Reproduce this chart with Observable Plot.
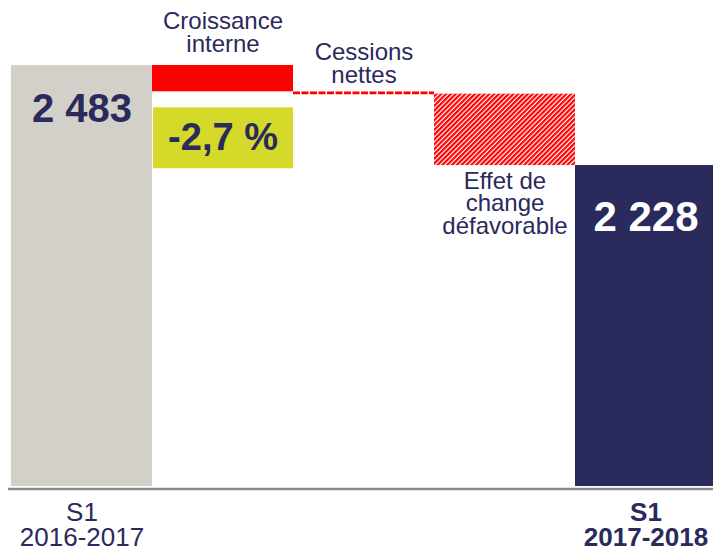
<!DOCTYPE html>
<html>
<head>
<meta charset="utf-8">
<script src="https://cdn.jsdelivr.net/npm/d3@7"></script>
<script src="https://cdn.jsdelivr.net/npm/@observablehq/plot@0.6"></script>
<style>
  html, body { margin: 0; padding: 0; background: #fff; overflow: hidden; }
  svg { display: block; }
</style>
</head>
<body>
<div id="chart"></div>
<script>
// ---- data ----
const categories = ["S1 2016-2017", "Croissance interne", "Cessions nettes", "Effet de change défavorable", "S1 2017-2018"];
const values = [2483, -67, -6, -182, 2228];
const kinds = ["total", "delta", "delta", "delta", "total"];
const stepLabels = ["Croissance\ninterne", "Cessions\nnettes", "Effet de\nchange\ndéfavorable"];
const axisLabels = ["S1\n2016-2017", "S1\n2017-2018"];
const growthLabel = "-2,7 %";
const yBase = 1410;

// ---- waterfall table ----
let run = 0;
const rows = categories.map((cat, i) => {
  let y1, y2;
  if (kinds[i] === "total") { y1 = yBase; y2 = values[i]; run = values[i]; }
  else { y1 = run; y2 = run + values[i]; run = y2; }
  return { cat, y1, y2, value: values[i], kind: kinds[i] };
});
const fmt = v => d3.format(",")(v).replace(/,/g, " ");

const NAVY = "#2a2a5c";
const GREY = "#d3d0ca";
const RED = "#ff0000";
const LIME = "#d4d92a";

const byCat = c => d => d.cat === c;

const svg = Plot.plot({
  width: 713,
  height: 551,
  marginLeft: 8,
  marginRight: 0,
  marginTop: 0,
  marginBottom: 0,
  style: { fontFamily: "'Liberation Sans', Arial, sans-serif", background: "#fff", overflow: "hidden" },
  x: { domain: categories, range: [10, 716.5], padding: 0, axis: null },
  y: { domain: [yBase, 2483], range: [486, 65], axis: null },
  marks: [
    // bars
    Plot.barY(rows, { filter: byCat(categories[0]), x: "cat", y1: "y1", y2: "y2", fill: GREY }),
    Plot.barY(rows, { filter: byCat(categories[1]), x: "cat", y1: "y1", y2: "y2", fill: RED }),
    Plot.tickY(rows, { filter: byCat(categories[2]), x: "cat", y: d => (d.y1 + d.y2) / 2, stroke: RED, strokeWidth: 2.8, strokeDasharray: "7,1.5" }),
    Plot.barY(rows, { filter: byCat(categories[3]), x: "cat", y1: "y1", y2: "y2", fill: "url(#hatch)" }),
    Plot.barY(rows, { filter: byCat(categories[4]), x: "cat", y1: "y1", y2: "y2", fill: NAVY }),
    // baseline
    Plot.ruleY([yBase], { dy: 2.5, stroke: "#8a8a8a", strokeWidth: 2.6 }),
    // growth box
    Plot.barY(rows, { filter: byCat(categories[1]), x: "cat", y1: "y2", y2: "y2", fill: LIME, insetTop: 16, insetBottom: -77, insetLeft: 1 }),
    Plot.text(rows, { filter: byCat(categories[1]), x: "cat", y: "y2", dy: 46.5, text: () => growthLabel, fontSize: 38, fontWeight: "bold", fill: NAVY }),
    // total values
    Plot.text(rows, { filter: byCat(categories[0]), x: "cat", y: "y2", dy: 44, text: d => fmt(d.value), fontSize: 40, fontWeight: "bold", fill: NAVY }),
    Plot.text(rows, { filter: byCat(categories[4]), x: "cat", y: "y2", dy: 51.5, text: d => fmt(d.value), fontSize: 42, fontWeight: "bold", fill: "#fff" }),
    // step labels
    Plot.text(rows, { filter: byCat(categories[1]), x: "cat", y: "y1", dy: -14, text: () => stepLabels[0], lineAnchor: "bottom", lineHeight: 0.92, fontSize: 24, fill: NAVY }),
    Plot.text(rows, { filter: byCat(categories[2]), x: "cat", y: "y1", dy: -8.5, text: () => stepLabels[1], lineAnchor: "bottom", lineHeight: 0.95, fontSize: 24, fill: NAVY }),
    Plot.text(rows, { filter: byCat(categories[3]), x: "cat", y: "y2", dy: 7, text: () => stepLabels[2], lineAnchor: "top", lineHeight: 0.94, fontSize: 24, fill: NAVY }),
    // category axis labels
    Plot.text(rows, { filter: byCat(categories[0]), x: "cat", y: () => yBase, dy: 16.5, text: () => axisLabels[0], lineAnchor: "top", lineHeight: 0.96, fontSize: 26, fill: NAVY }),
    Plot.text(rows, { filter: byCat(categories[4]), x: "cat", y: () => yBase, dy: 16.5, text: () => axisLabels[1], lineAnchor: "top", lineHeight: 0.96, fontSize: 26, fontWeight: "bold", fill: NAVY })
  ]
});

// hatch pattern definition
const defs = d3.select(svg).insert("defs", ":first-child");
const pat = defs.append("pattern")
  .attr("id", "hatch")
  .attr("patternUnits", "userSpaceOnUse")
  .attr("width", 3.4).attr("height", 3.4)
  .attr("patternTransform", "rotate(45)");
pat.append("rect").attr("width", 3.4).attr("height", 3.4).attr("fill", "#fff");
pat.append("rect").attr("width", 2.2).attr("height", 3.4).attr("fill", RED);

document.getElementById("chart").appendChild(svg);
</script>
</body>
</html>
